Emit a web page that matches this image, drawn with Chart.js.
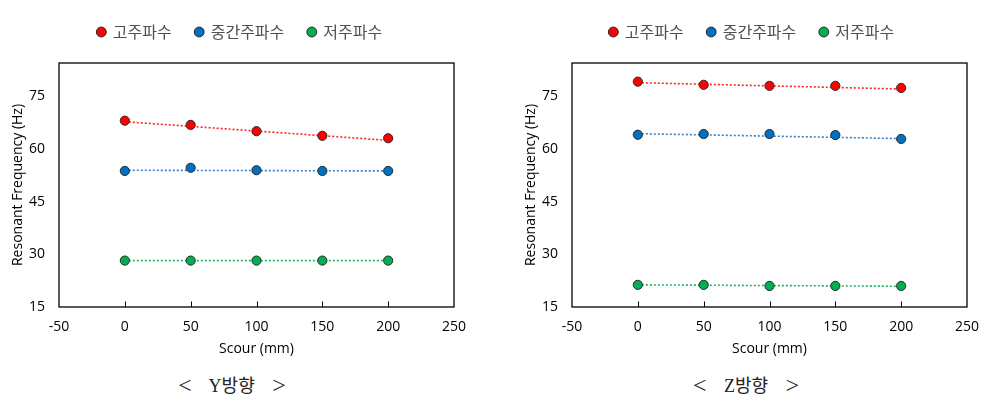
<!DOCTYPE html>
<html><head><meta charset="utf-8">
<script src="https://cdn.jsdelivr.net/npm/chart.js@4/dist/chart.umd.min.js"></script>
<style>
html,body{margin:0;padding:0;background:#fff;}
body{width:995px;height:406px;position:relative;overflow:hidden;}
.box{position:absolute;top:0;height:360px;}
.cap{position:absolute;top:385px;transform:translate(-50%,-50%);font-family:"Liberation Serif","Noto Sans CJK KR",serif;font-size:18px;color:#222;white-space:pre;word-spacing:13px;}
.cap .br{font-size:24px;font-family:"Liberation Serif",serif;vertical-align:-1px;}
</style></head>
<body>
<div class="box" style="left:0;width:490px"><canvas id="cy"></canvas></div>
<div class="box" style="left:513px;width:482px"><canvas id="cz"></canvas></div>
<div class="cap" style="left:232px"><span class="br">&lt;</span> Y방향 <span class="br">&gt;</span></div>
<div class="cap" style="left:746px"><span class="br">&lt;</span> Z방향 <span class="br">&gt;</span></div>
<script>
// ---- data ----
const seriesNames = ['고주파수', '중간주파수', '저주파수'];
const scour = [0, 50, 100, 150, 200];
const yHigh = [68.0, 66.8, 65.0, 63.7, 63.0];
const yMid  = [53.7, 54.6, 53.9, 53.7, 53.7];
const yLow  = [28.2, 28.2, 28.2, 28.2, 28.2];
const zHigh = [79.1, 78.2, 77.9, 77.9, 77.3];
const zMid  = [64.0, 64.2, 64.2, 63.9, 62.8];
const zLow  = [21.3, 21.3, 21.0, 21.0, 21.0];
// trendline end points
const trendX = [0, 200];
const yHighTrend = [67.7, 62.4];
const yMidTrend  = [53.9, 53.7];
const yLowTrend  = [28.2, 28.2];
const zHighTrend = [78.8, 77.0];
const zMidTrend  = [64.3, 62.9];
const zLowTrend  = [21.3, 20.9];
const xTicks = [-50, 0, 50, 100, 150, 200, 250];
const yTicks = [15, 30, 45, 60, 75];
const xTitle = 'Scour (mm)';
const yTitle = 'Resonant Frequency (Hz)';

const fills = ['#FF0000', '#0070C0', '#00B050'];
const trendColors = ['#FF2020', '#3C7DC8', '#20B060'];

function pts(xs, ys){ return xs.map((x,i)=>({x:x, y:ys[i]})); }

function makeDatasets(series, trends){
  const ds = [];
  series.forEach((s,i)=>{
    ds.push({label: seriesNames[i], data: pts(scour, s), showLine:false,
      backgroundColor: fills[i], borderColor:'#2a2a2a', borderWidth:1,
      pointRadius:4.6, pointHoverRadius:4.6, order:0});
  });
  trends.forEach((t,i)=>{
    ds.push({label:'trend'+i, data: pts(trendX, t), showLine:true,
      borderColor: trendColors[i], borderWidth:1.6, borderDash:[2,2],
      pointRadius:0, fill:false, order:1});
  });
  return ds;
}

const axisFont = {family:'"Open Sans","Liberation Sans",sans-serif', size:14};

const framePlugin = {
  id:'frame',
  beforeLayout(chart){
    const lg = chart.legend;
    if (lg && !lg._patched){
      const extra = chart.options.plugins.frame.legendExtra || 0;
      const fit = lg.fit;
      lg.fit = function(){ fit.call(this); this.height += extra; };
      lg._patched = true;
    }
  },
  afterLayout(chart){
    const s = chart.options.plugins.frame.legendShift || 0;
    chart.legend.left += s; chart.legend.right += s;
  },
  afterDatasetsDraw(chart){
    const {ctx, chartArea:a} = chart;
    const xs = chart.scales.x;
    ctx.save();
    ctx.strokeStyle = '#000'; ctx.lineWidth = 1.3;
    ctx.strokeRect(a.left, a.top, a.right-a.left, a.bottom-a.top);
    ctx.lineWidth = 1;
    xs.ticks.forEach(t=>{
      if (t.value <= xs.min || t.value >= xs.max) return;
      const px = Math.round(xs.getPixelForValue(t.value)) + 0.5;
      ctx.beginPath(); ctx.moveTo(px, a.bottom); ctx.lineTo(px, a.bottom-5.5); ctx.stroke();
    });
    ctx.restore();
  }
};

function makeChart(id, series, trends, padRight, shift){
  return new Chart(document.getElementById(id), {
    type:'scatter',
    data:{datasets: makeDatasets(series, trends)},
    options:{
      responsive:true, maintainAspectRatio:false, animation:false,
      layout:{padding:{top:0, right:padRight, left:0, bottom:0}},
      plugins:{
        frame:{legendShift: shift, legendExtra: 13},
        tooltip:{enabled:false},
        legend:{position:'top',
          labels:{usePointStyle:true, pointStyle:'circle', boxWidth:7, boxHeight:7,
            padding:24, color:'#505050',
            font:{family:'"Noto Sans CJK KR","Noto Sans",sans-serif', size:16},
            filter:(item)=>item.datasetIndex < 3}}
      },
      scales:{
        x:{type:'linear', min:xTicks[0], max:xTicks[xTicks.length-1],
          afterBuildTicks:(sc)=>{ sc.ticks = xTicks.map(v=>({value:v})); },
          afterFit:(sc)=>{ sc.height = 53; },
          grid:{display:false, drawTicks:false}, border:{display:false},
          ticks:{padding:12, color:'#000', font:axisFont},
          title:{display:true, text:xTitle, color:'#000', font:axisFont, padding:{top:0,bottom:3}}},
        y:{type:'linear', min:15, max:84.4,
          afterBuildTicks:(sc)=>{ sc.ticks = yTicks.map(v=>({value:v})); },
          afterFit:(sc)=>{ sc.width = 59; },
          grid:{display:false, drawTicks:false}, border:{display:false},
          ticks:{padding:14, color:'#000', font:axisFont},
          title:{display:true, text:yTitle, color:'#000', font:axisFont, padding:{top:10,bottom:0}}}
      }
    },
    plugins:[framePlugin]
  });
}

makeChart('cy', [yHigh, yMid, yLow], [yHighTrend, yMidTrend, yLowTrend], 36, 13);
makeChart('cz', [zHigh, zMid, zLow], [zHighTrend, zMidTrend, zLowTrend], 28, 12);
</script>
</body></html>
